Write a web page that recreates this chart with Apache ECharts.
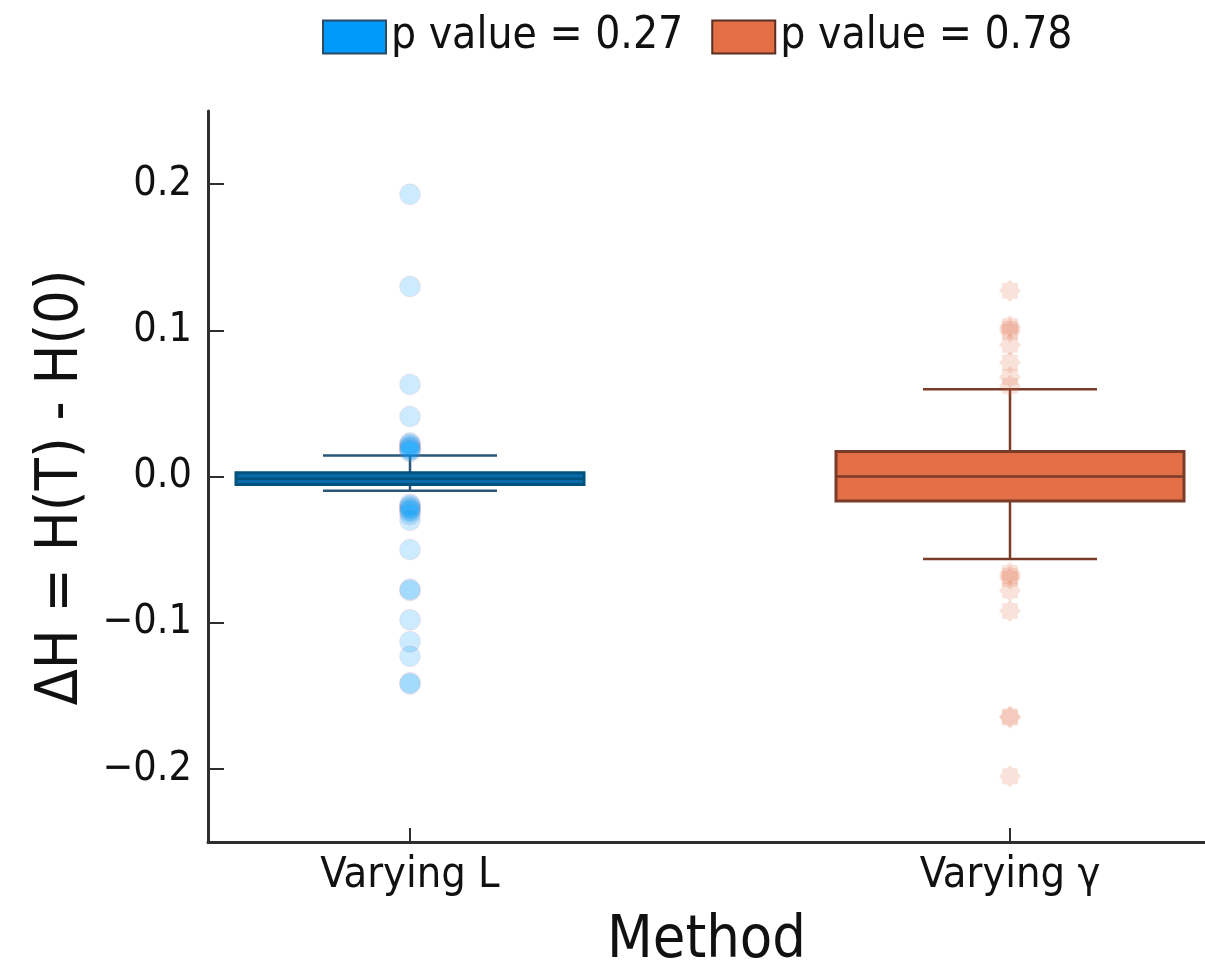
<!DOCTYPE html>
<html>
<head>
<meta charset="utf-8">
<script src="https://cdn.jsdelivr.net/npm/echarts@6/dist/echarts.min.js"></script>
<style>
html,body{margin:0;padding:0;background:#fff;}
#chart{width:1205px;height:965px;}
</style>
</head>
<body>
<div id="chart"></div>
<script>
// ---- data ----
const categories = ['Varying L', 'Varying \u03b3'];
const seriesNames = ['p value = 0.27', 'p value = 0.78'];
// [lower whisker, Q1, median, Q3, upper whisker]
const boxVaryingL = [-0.0097, -0.0055, -0.0015, 0.0025, 0.0143];
const boxVaryingG = [-0.0565, -0.0167, 0.0, 0.0171, 0.0597];
const outliersVaryingL = [0.193, 0.130, 0.063, 0.041, 0.023, 0.022, 0.021, 0.020, 0.019, 0.018, 0.017,
  -0.019, -0.020, -0.021, -0.022, -0.023, -0.024, -0.026, -0.030, -0.050, -0.077, -0.078, -0.098, -0.113, -0.123, -0.141, -0.142];
const outliersVaryingG = [0.127, 0.103, 0.101, 0.099, 0.090, 0.078, 0.068, 0.062,
  -0.066, -0.068, -0.070, -0.078, -0.092, -0.164, -0.165, -0.205];
const yTicks = [-0.2, -0.1, 0.0, 0.1, 0.2];

// ---- styles ----
const colors = ['#009AFA', '#E36F47'];
const boxFill = ['#0b6aa8', '#E36F47'];
const boxStroke = ['#00527f', '#7a3b28'];
const whiskerColor = ['#2a5678', '#7a3b28'];
const FONT = '"DejaVu Sans Condensed", "DejaVu Sans", sans-serif';
const BOX_HALF = 0.29, CAP_HALF = 0.145;

function makeRender(idx) {
  return function (params, api) {
    const x = api.value(0);
    const lo = api.value(1), q1 = api.value(2), med = api.value(3), q3 = api.value(4), hi = api.value(5);
    const tl = api.coord([x - BOX_HALF, q3]);
    const br = api.coord([x + BOX_HALF, q1]);
    const mL = api.coord([x - BOX_HALF, med]);
    const mR = api.coord([x + BOX_HALF, med]);
    const cTop = api.coord([x, hi]);
    const cQ3 = api.coord([x, q3]);
    const cQ1 = api.coord([x, q1]);
    const cBot = api.coord([x, lo]);
    const capL_hi = api.coord([x - CAP_HALF, hi]);
    const capR_hi = api.coord([x + CAP_HALF, hi]);
    const capL_lo = api.coord([x - CAP_HALF, lo]);
    const capR_lo = api.coord([x + CAP_HALF, lo]);
    const wStyle = {stroke: whiskerColor[idx], lineWidth: 2.5};
    return {
      type: 'group',
      children: [
        {type: 'line', shape: {x1: cTop[0], y1: cTop[1], x2: cQ3[0], y2: cQ3[1]}, style: wStyle},
        {type: 'line', shape: {x1: cQ1[0], y1: cQ1[1], x2: cBot[0], y2: cBot[1]}, style: wStyle},
        {type: 'line', shape: {x1: capL_hi[0], y1: capL_hi[1], x2: capR_hi[0], y2: capR_hi[1]}, style: wStyle},
        {type: 'line', shape: {x1: capL_lo[0], y1: capL_lo[1], x2: capR_lo[0], y2: capR_lo[1]}, style: wStyle},
        {type: 'rect', shape: {x: tl[0], y: tl[1], width: br[0] - tl[0], height: br[1] - tl[1]},
          style: {fill: boxFill[idx], stroke: boxStroke[idx], lineWidth: 3}},
        {type: 'line', shape: {x1: mL[0], y1: mL[1], x2: mR[0], y2: mR[1]},
          style: {stroke: boxStroke[idx], lineWidth: 2.5}}
      ]
    };
  };
}

// 8-point star path for the second group's markers
function starPath(n) {
  let d = '';
  for (let i = 0; i < 2 * n; i++) {
    const r = i % 2 === 0 ? 1 : 0.78;
    const a = Math.PI * i / n - Math.PI / 2;
    const px = (r * Math.cos(a)).toFixed(3), py = (r * Math.sin(a)).toFixed(3);
    d += (i === 0 ? 'M' : 'L') + px + ' ' + py + ' ';
  }
  return 'path://' + d + 'Z';
}

const chart = echarts.init(document.getElementById('chart'), null, {renderer: 'canvas'});

const option = {
  backgroundColor: '#ffffff',
  animation: false,
  textStyle: {fontFamily: FONT},
  legend: {
    top: 15,
    left: 322,
    padding: 0,
    itemWidth: 63,
    itemHeight: 33,
    itemGap: 28,
    icon: 'rect',
    textStyle: {fontFamily: FONT, fontSize: 44, color: '#111', padding: [0, 0, 0, 0]},
    data: [
      {name: seriesNames[0], itemStyle: {color: colors[0], borderColor: '#2a4a66', borderWidth: 2}},
      {name: seriesNames[1], itemStyle: {color: colors[1], borderColor: '#5a2e22', borderWidth: 2}}
    ]
  },
  grid: {left: 208, right: 0, top: 111, bottom: 123, containLabel: false, outerBoundsMode: 'none'},
  xAxis: {
    type: 'value',
    min: 1 - 202 / 600,
    max: 1 - 202 / 600 + 997 / 600,
    name: 'Method',
    nameLocation: 'middle',
    nameGap: 70,
    nameTextStyle: {fontFamily: FONT, fontSize: 59, color: '#111'},
    axisLine: {show: true, onZero: false, lineStyle: {color: '#2e2e2e', width: 3}},
    axisTick: {show: true, inside: true, length: 14, customValues: [1, 2], lineStyle: {color: '#2e2e2e', width: 2}},
    axisLabel: {show: true, customValues: [1, 2], margin: 12, fontFamily: FONT, fontSize: 43, color: '#111',
      formatter: v => categories[Math.round(v) - 1]},
    splitLine: {show: false}
  },
  yAxis: {
    type: 'value',
    min: -0.25,
    max: 0.25,
    name: '\u0394H = H(T) - H(0)',
    nameLocation: 'middle',
    nameGap: 108,
    nameTextStyle: {fontFamily: FONT, fontSize: 59, color: '#111', padding: [0, 22, 0, 0]},
    axisLine: {show: true, onZero: false, lineStyle: {color: '#2e2e2e', width: 3}},
    axisTick: {show: true, inside: true, length: 16, customValues: yTicks, lineStyle: {color: '#2e2e2e', width: 2}},
    axisLabel: {show: true, customValues: yTicks, margin: 16, fontFamily: FONT, fontSize: 41, color: '#111',
      formatter: v => (v < -1e-9 ? '\u2212' : '') + Math.abs(v).toFixed(1)},
    splitLine: {show: false}
  },
  series: [
    {
      name: seriesNames[0], type: 'custom', renderItem: makeRender(0),
      itemStyle: {color: colors[0]},
      encode: {x: 0, y: [1, 2, 3, 4, 5]},
      data: [[1].concat(boxVaryingL)], z: 2
    },
    {
      name: seriesNames[1], type: 'custom', renderItem: makeRender(1),
      itemStyle: {color: colors[1]},
      encode: {x: 0, y: [1, 2, 3, 4, 5]},
      data: [[2].concat(boxVaryingG)], z: 2
    },
    {
      name: 'outliers L', type: 'scatter', symbol: 'circle', symbolSize: 21, z: 3,
      itemStyle: {color: colors[0], opacity: 0.2, borderColor: 'rgba(255,80,80,0.5)', borderWidth: 1},
      data: outliersVaryingL.map(v => [1, v])
    },
    {
      name: 'outliers G', type: 'scatter', symbol: starPath(8), symbolSize: 22, z: 3,
      itemStyle: {color: colors[1], opacity: 0.2},
      data: outliersVaryingG.map(v => [2, v])
    }
  ]
};
chart.setOption(option);
</script>
</body>
</html>
